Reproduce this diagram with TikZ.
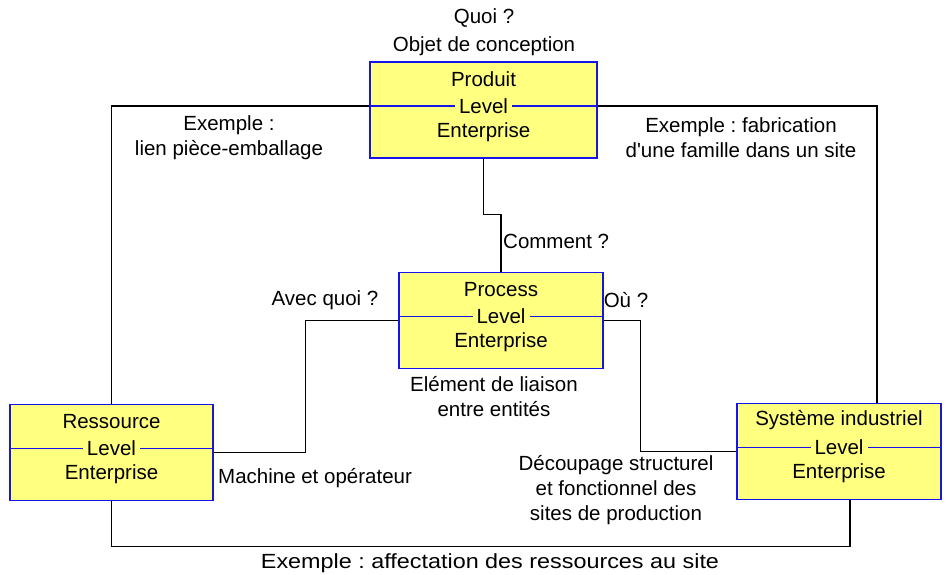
\documentclass[tikz,border=0pt]{standalone}
\usepackage{fontspec}
\setmainfont{Liberation Sans}
\usepackage{xcolor}
\usepackage{tikz}
\usetikzlibrary{calc}
\frenchspacing

\definecolor{entyellow}{RGB}{255,255,128}
\definecolor{entblue}{RGB}{20,20,235}

% one entity box: name, centre, width, title
\newcommand{\entity}[4]{%
  \node[ent, minimum width=#3] (#1) at (#2) {};
  \draw[lvline] ([yshift=4]#1.west) -- ([yshift=4]#1.east);
  \node[lvl] (#1lv) at ([yshift=4]#1.center) {Level};
  \node (#1t) at ([yshift=31]#1.center) {#4};
  \node (#1e) at ([yshift=-22]#1.center) {Enterprise};
}

\begin{document}
\begin{tikzpicture}[x=1pt, y=-1pt,
    every node/.style={font=\fontsize{20.5}{25}\selectfont, inner sep=0pt},
    ent/.style={draw=entblue, line width=1.4pt, fill=entyellow,
      minimum height=96pt},
    lvline/.style={entblue, line width=1.2pt},
    lvl/.style={fill=entyellow, inner xsep=4pt, inner ysep=1pt},
    link/.style={black, line width=1.3pt},
    lbl/.style={align=center}]
    \useasboundingbox (0,0) rectangle (951,574);
    % Entities
    \entity{prod}{483.5,110}{227pt}{Produit}
    \entity{proc}{501,320.5}{204pt}{Process}
    \entity{res}{111.5,452.5}{203pt}{Ressource}
    \entity{sys}{839,451.5}{204pt}{Système industriel}
    % Links
    \draw[link] (prod.west |- prodlv) -| (res.north);
    \draw[link] (prod.east |- prodlv) -| ([xshift=38]sys.north);
    \draw[link] (prod.south) -- ++(0,56) -| (proc.north);
    \draw[link] (res.east) -- ++(92,0) |- (proc.west);
    \draw[link] (proc.east) -- ++(37,0) |- (sys.west);
    \draw[link] (res.south) -- ++(0,45) -| ([xshift=11]sys.south);
    % Labels
    \node (quoi) at (484,18) {Quoi ?};
    \node (objet) at (484,46) {Objet de conception};
    \node[lbl] (exlien) at (229,138) {Exemple :\\lien pièce-emballage};
    \node[lbl] (exfab) at (741,138) {Exemple : fabrication\\d\textquotesingle une famille dans un site};
    \node[anchor=west] (comment) at (503,241) {Comment ?};
    \node (avec) at (325,300) {Avec quoi ?};
    \node (ou) at (626,300) {Où ?};
    \node[lbl] (liaison) at (494,397) {Elément de liaison\\entre entités};
    \node[anchor=west] (machine) at (218,478) {Machine et opérateur};
    \node[lbl] (decoup) at (616,490) {Découpage structurel\\et fonctionnel des\\sites de production};
    \node (affect) at (490,563) {\scalebox{1.14}[1]{Exemple : affectation des ressources au site}};
\end{tikzpicture}
\end{document}
